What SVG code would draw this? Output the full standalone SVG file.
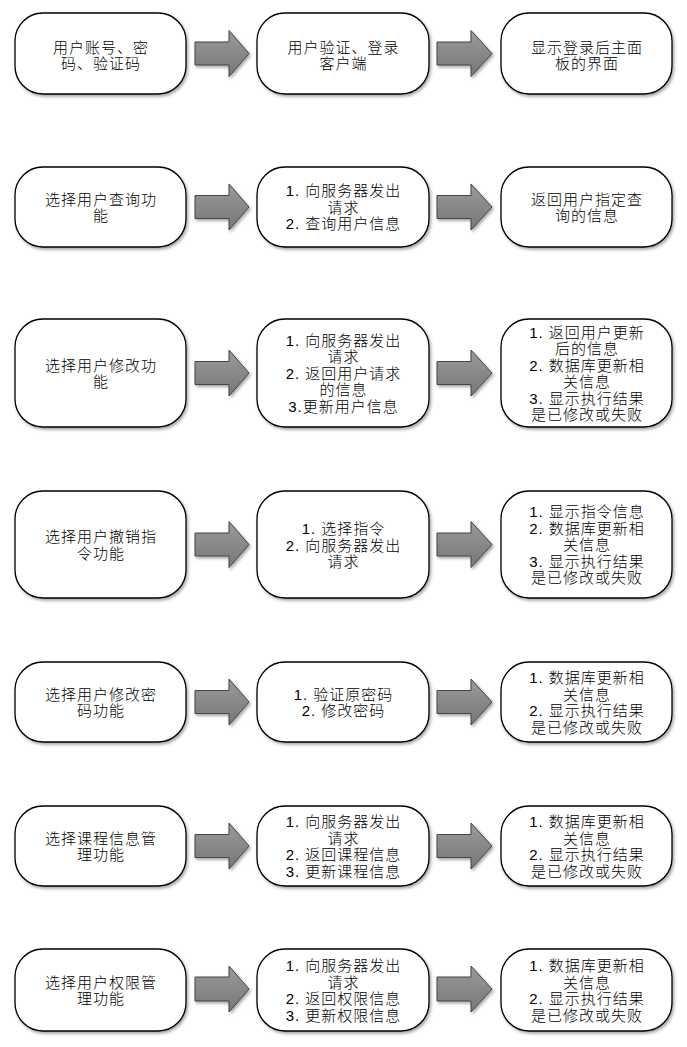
<svg xmlns="http://www.w3.org/2000/svg" width="687" height="1047" viewBox="0 0 687 1047">
<defs>
<filter id="sh" x="-10%" y="-10%" width="125%" height="130%">
<feDropShadow dx="1.5" dy="2" stdDeviation="1.5" flood-color="#000" flood-opacity="0.35"/>
</filter>
<linearGradient id="ag" x1="0" y1="0" x2="0" y2="1">
<stop offset="0" stop-color="#9a9a9a"/>
<stop offset="1" stop-color="#777"/>
</linearGradient>
<style>
.box{fill:#fff;stroke:#000;stroke-width:1.3;filter:url(#sh)}
.arr{fill:url(#ag);stroke:#444;stroke-width:1;filter:url(#sh)}
text{font-family:"Liberation Sans","Noto Sans CJK SC",sans-serif;font-size:15px;font-weight:300;letter-spacing:1px;fill:#000;text-anchor:middle}
</style>
</defs>
<rect width="687" height="1047" fill="#fff"/>
<g id="connectors">
<path class="arr" d="M195,42 L229,42 L229,30.5 L249,53.5 L229,76.5 L229,65 L195,65 Z"/>
<path class="arr" d="M437,42 L471,42 L471,30.5 L492,53.5 L471,76.5 L471,65 L437,65 Z"/>
<path class="arr" d="M195,195.5 L229,195.5 L229,184 L249,207 L229,230 L229,218.5 L195,218.5 Z"/>
<path class="arr" d="M437,195.5 L471,195.5 L471,184 L492,207 L471,230 L471,218.5 L437,218.5 Z"/>
<path class="arr" d="M195,361.5 L229,361.5 L229,350 L249,373 L229,396 L229,384.5 L195,384.5 Z"/>
<path class="arr" d="M437,361.5 L471,361.5 L471,350 L492,373 L471,396 L471,384.5 L437,384.5 Z"/>
<path class="arr" d="M195,533 L229,533 L229,521.5 L249,544.5 L229,567.5 L229,556 L195,556 Z"/>
<path class="arr" d="M437,533 L471,533 L471,521.5 L492,544.5 L471,567.5 L471,556 L437,556 Z"/>
<path class="arr" d="M195,690.5 L229,690.5 L229,679 L249,702 L229,725 L229,713.5 L195,713.5 Z"/>
<path class="arr" d="M437,690.5 L471,690.5 L471,679 L492,702 L471,725 L471,713.5 L437,713.5 Z"/>
<path class="arr" d="M195,834.5 L229,834.5 L229,823 L249,846 L229,869 L229,857.5 L195,857.5 Z"/>
<path class="arr" d="M437,834.5 L471,834.5 L471,823 L492,846 L471,869 L471,857.5 L437,857.5 Z"/>
<path class="arr" d="M195,977 L229,977 L229,966 L249,989 L229,1012 L229,1001 L195,1001 Z"/>
<path class="arr" d="M437,977 L471,977 L471,966 L492,989 L471,1012 L471,1001 L437,1001 Z"/>
</g>

<g id="r1c1"><rect class="box" x="15" y="13" width="171" height="81" rx="28" ry="28"/>
<text x="101" y="52.5">用户账号、密</text><text x="101" y="69">码、验证码</text></g>
<g id="r1c2"><rect class="box" x="257" y="13" width="172" height="81" rx="28" ry="28"/>
<text x="343.5" y="52.5">用户验证、登录</text><text x="343.5" y="69">客户端</text></g>
<g id="r1c3"><rect class="box" x="501" y="13" width="171" height="81" rx="28" ry="28"/>
<text x="587" y="52.5">显示登录后主面</text><text x="587" y="69">板的界面</text></g>

<g id="r2c1"><rect class="box" x="15" y="167" width="171" height="80" rx="28" ry="28"/>
<text x="101" y="204.5">选择用户查询功</text><text x="101" y="221">能</text></g>
<g id="r2c2"><rect class="box" x="257" y="167" width="172" height="80" rx="28" ry="28"/>
<text x="343.5" y="196.25">1. 向服务器发出</text><text x="343.5" y="212.75">请求</text><text x="343.5" y="229.25">2. 查询用户信息</text></g>
<g id="r2c3"><rect class="box" x="501" y="167" width="171" height="80" rx="28" ry="28"/>
<text x="587" y="204.5">返回用户指定查</text><text x="587" y="221">询的信息</text></g>

<g id="r3c1"><rect class="box" x="15" y="319" width="171" height="108" rx="28" ry="28"/>
<text x="101" y="370.5">选择用户修改功</text><text x="101" y="387">能</text></g>
<g id="r3c2"><rect class="box" x="257" y="319" width="172" height="108" rx="28" ry="28"/>
<text x="343.5" y="345.75">1. 向服务器发出</text><text x="343.5" y="362.25">请求</text><text x="343.5" y="378.75">2. 返回用户请求</text><text x="343.5" y="395.25">的信息</text><text x="343.5" y="411.75">3.更新用户信息</text></g>
<g id="r3c3"><rect class="box" x="501" y="319" width="171" height="108" rx="28" ry="28"/>
<text x="587" y="337.5">1. 返回用户更新</text><text x="587" y="354">后的信息</text><text x="587" y="370.5">2. 数据库更新相</text><text x="587" y="387">关信息</text><text x="587" y="403.5">3. 显示执行结果</text><text x="587" y="420">是已修改或失败</text></g>

<g id="r4c1"><rect class="box" x="15" y="491" width="171" height="107" rx="28" ry="28"/>
<text x="101" y="542">选择用户撤销指</text><text x="101" y="558.5">令功能</text></g>
<g id="r4c2"><rect class="box" x="257" y="491" width="172" height="107" rx="28" ry="28"/>
<text x="343.5" y="534.25">1. 选择指令</text><text x="343.5" y="550.75">2. 向服务器发出</text><text x="343.5" y="567.25">请求</text></g>
<g id="r4c3"><rect class="box" x="501" y="491" width="171" height="107" rx="28" ry="28"/>
<text x="587" y="517.25">1. 显示指令信息</text><text x="587" y="533.75">2. 数据库更新相</text><text x="587" y="550.25">关信息</text><text x="587" y="566.75">3. 显示执行结果</text><text x="587" y="583.25">是已修改或失败</text></g>

<g id="r5c1"><rect class="box" x="15" y="662" width="171" height="80" rx="28" ry="28"/>
<text x="101" y="699.5">选择用户修改密</text><text x="101" y="716">码功能</text></g>
<g id="r5c2"><rect class="box" x="257" y="662" width="172" height="80" rx="28" ry="28"/>
<text x="343.5" y="699.5">1. 验证原密码</text><text x="343.5" y="716">2. 修改密码</text></g>
<g id="r5c3"><rect class="box" x="501" y="662" width="171" height="80" rx="28" ry="28"/>
<text x="587" y="683">1. 数据库更新相</text><text x="587" y="699.5">关信息</text><text x="587" y="716">2. 显示执行结果</text><text x="587" y="732.5">是已修改或失败</text></g>

<g id="r6c1"><rect class="box" x="15" y="806" width="171" height="80" rx="28" ry="28"/>
<text x="101" y="843.5">选择课程信息管</text><text x="101" y="860">理功能</text></g>
<g id="r6c2"><rect class="box" x="257" y="806" width="172" height="80" rx="28" ry="28"/>
<text x="343.5" y="827">1. 向服务器发出</text><text x="343.5" y="843.5">请求</text><text x="343.5" y="860">2. 返回课程信息</text><text x="343.5" y="876.5">3. 更新课程信息</text></g>
<g id="r6c3"><rect class="box" x="501" y="806" width="171" height="80" rx="28" ry="28"/>
<text x="587" y="827">1. 数据库更新相</text><text x="587" y="843.5">关信息</text><text x="587" y="860">2. 显示执行结果</text><text x="587" y="876.5">是已修改或失败</text></g>

<g id="r7c1"><rect class="box" x="15" y="949" width="171" height="82" rx="28" ry="28"/>
<text x="101" y="987.5">选择用户权限管</text><text x="101" y="1004">理功能</text></g>
<g id="r7c2"><rect class="box" x="257" y="949" width="172" height="82" rx="28" ry="28"/>
<text x="343.5" y="971">1. 向服务器发出</text><text x="343.5" y="987.5">请求</text><text x="343.5" y="1004">2. 返回权限信息</text><text x="343.5" y="1020.5">3. 更新权限信息</text></g>
<g id="r7c3"><rect class="box" x="501" y="949" width="171" height="82" rx="28" ry="28"/>
<text x="587" y="971">1. 数据库更新相</text><text x="587" y="987.5">关信息</text><text x="587" y="1004">2. 显示执行结果</text><text x="587" y="1020.5">是已修改或失败</text></g>
</svg>
